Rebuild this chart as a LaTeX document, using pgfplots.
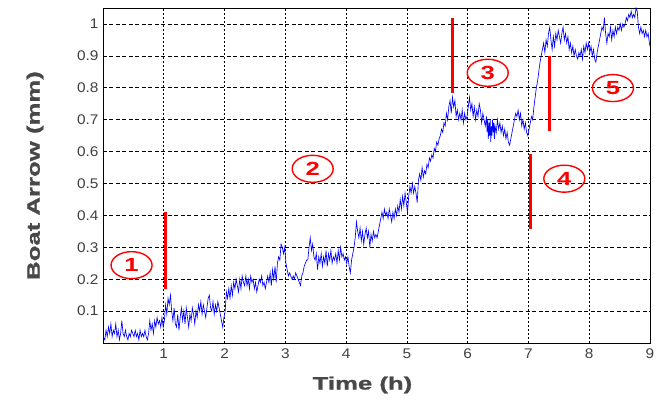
\documentclass[border=0pt]{standalone}
\usepackage{pgfplots}
\pgfplotsset{compat=1.18}
\usepackage{fontspec}
\setmainfont{Liberation Sans}
\newfontfamily\labfont[FakeStretch=1.43,FakeBold=1.2]{Liberation Sans Bold}
\newfontfamily\tickfont[FakeStretch=1.1]{Liberation Sans}
\newfontfamily\numfont[FakeStretch=1.35]{Liberation Sans Bold}
\usetikzlibrary{shapes.geometric}
\definecolor{labgray}{HTML}{484848}
\definecolor{tickgray}{HTML}{404040}
\begin{document}
\begin{tikzpicture}
\begin{axis}[
  name=ax,
  scale only axis,
  width=547pt, height=335pt,
  xmin=0, xmax=9, ymin=0, ymax=1.05,
  xtick={1,2,3,4,5,6,7,8,9},
  ytick={0.1,0.2,0.3,0.4,0.5,0.6,0.7,0.8,0.9,1},
  yticklabels={0.1,0.2,0.3,0.4,0.5,0.6,0.7,0.8,0.9,1},
  xticklabels={1,2,3,4,5,6,7,8,9},
  major tick length=0pt,
  grid=major,
  x grid style={black, line width=0.7pt, dash pattern=on 2pt off 2pt},
  y grid style={black, line width=0.7pt, dash pattern=on 4pt off 2.5pt},
  axis line style={black, line width=0.9pt},
  tick label style={font=\tickfont\fontsize{14}{16}\selectfont, text=tickgray},
  xticklabel style={yshift=-2pt},
  yticklabel style={xshift=-1pt},
  xlabel={Time (h)},
  ylabel={Boat Arrow (mm)},
  label style={font=\labfont\fontsize{18}{20}\selectfont, text=labgray},
  xlabel style={at={(axis description cs:0.4744,0)}, anchor=north, yshift=-30pt},
  ylabel style={at={(axis description cs:-0.1024,0.5)}, anchor=south},
  clip=true,
]
\addplot[blue, line width=0.65pt] coordinates {
(0.00,0.02)(0.03,0.01)(0.05,0.04)(0.07,0.02)(0.09,0.05)(0.11,0.03)(0.13,0.06)(0.15,0.02)(0.17,0.04)(0.19,0.03)
(0.21,0.06)(0.23,0.02)(0.25,0.04)(0.27,0.01)(0.29,0.03)(0.31,0.07)(0.33,0.03)(0.35,0.02)(0.37,0.04)(0.39,0.02)
(0.41,0.01)(0.43,0.03)(0.45,0.02)(0.47,0.04)(0.49,0.03)(0.51,0.02)(0.53,0.04)(0.55,0.02)(0.57,0.03)(0.59,0.01)
(0.61,0.04)(0.63,0.02)(0.65,0.03)(0.67,0.02)(0.69,0.04)(0.71,0.02)(0.73,0.01)(0.75,0.03)(0.77,0.07)(0.79,0.04)
(0.81,0.06)(0.83,0.03)(0.85,0.07)(0.87,0.05)(0.89,0.08)(0.91,0.06)(0.93,0.07)(0.95,0.05)(0.97,0.08)(0.99,0.05)
(1.01,0.07)(1.03,0.12)(1.05,0.09)(1.07,0.14)(1.09,0.12)(1.11,0.15)(1.13,0.10)(1.15,0.07)(1.17,0.11)(1.19,0.06)
(1.21,0.05)(1.23,0.09)(1.25,0.04)(1.27,0.08)(1.29,0.11)(1.31,0.07)(1.33,0.10)(1.35,0.06)(1.37,0.11)(1.39,0.08)
(1.41,0.05)(1.43,0.09)(1.45,0.07)(1.47,0.11)(1.49,0.09)(1.51,0.06)(1.53,0.10)(1.55,0.08)(1.57,0.12)(1.59,0.10)
(1.61,0.13)(1.63,0.09)(1.65,0.12)(1.67,0.10)(1.69,0.08)(1.71,0.11)(1.73,0.14)(1.75,0.15)(1.77,0.11)(1.79,0.10)
(1.81,0.13)(1.83,0.09)(1.85,0.12)(1.87,0.10)(1.89,0.13)(1.91,0.11)(1.93,0.09)(1.95,0.07)(1.97,0.05)(1.99,0.08)
(2.01,0.10)(2.03,0.16)(2.05,0.14)(2.07,0.17)(2.09,0.14)(2.11,0.18)(2.13,0.15)(2.15,0.19)(2.17,0.17)(2.19,0.20)
(2.21,0.18)(2.23,0.16)(2.25,0.20)(2.27,0.17)(2.29,0.21)(2.31,0.19)(2.33,0.18)(2.35,0.21)(2.37,0.18)(2.39,0.20)
(2.41,0.17)(2.43,0.21)(2.45,0.19)(2.47,0.20)(2.49,0.17)(2.51,0.19)(2.53,0.16)(2.55,0.18)(2.57,0.20)(2.59,0.19)
(2.61,0.21)(2.63,0.18)(2.65,0.19)(2.67,0.17)(2.69,0.19)(2.71,0.21)(2.73,0.19)(2.75,0.22)(2.77,0.18)(2.79,0.23)
(2.81,0.20)(2.83,0.24)(2.85,0.19)(2.87,0.25)(2.89,0.27)(2.91,0.26)(2.93,0.31)(2.95,0.30)(2.97,0.28)(2.99,0.30)
(3.01,0.25)(3.03,0.23)(3.05,0.21)(3.07,0.22)(3.09,0.21)(3.11,0.20)(3.13,0.21)(3.15,0.20)(3.17,0.22)(3.19,0.21)
(3.21,0.20)(3.23,0.19)(3.25,0.18)(3.27,0.21)(3.29,0.22)(3.31,0.24)(3.33,0.25)(3.35,0.26)(3.37,0.26)(3.39,0.30)
(3.41,0.33)(3.43,0.29)(3.45,0.31)(3.47,0.27)(3.49,0.26)(3.51,0.28)(3.53,0.23)(3.55,0.27)(3.57,0.25)(3.59,0.28)
(3.61,0.24)(3.63,0.27)(3.65,0.25)(3.67,0.29)(3.69,0.24)(3.71,0.28)(3.73,0.26)(3.75,0.29)(3.77,0.25)(3.79,0.27)
(3.81,0.26)(3.83,0.28)(3.85,0.25)(3.87,0.29)(3.89,0.26)(3.91,0.30)(3.93,0.27)(3.95,0.28)(3.97,0.26)(3.99,0.27)
(4.01,0.25)(4.03,0.27)(4.05,0.24)(4.07,0.22)(4.09,0.26)(4.11,0.28)(4.13,0.30)(4.15,0.33)(4.17,0.38)(4.19,0.35)
(4.21,0.33)(4.23,0.36)(4.25,0.32)(4.27,0.35)(4.29,0.31)(4.31,0.34)(4.33,0.36)(4.35,0.33)(4.37,0.35)(4.39,0.30)
(4.41,0.34)(4.43,0.32)(4.45,0.35)(4.47,0.33)(4.49,0.34)(4.51,0.33)(4.53,0.35)(4.55,0.37)(4.57,0.39)(4.59,0.41)
(4.61,0.39)(4.63,0.42)(4.65,0.40)(4.67,0.41)(4.69,0.39)(4.71,0.42)(4.73,0.40)(4.75,0.38)(4.77,0.41)(4.79,0.39)
(4.81,0.42)(4.83,0.40)(4.85,0.43)(4.87,0.41)(4.89,0.45)(4.91,0.42)(4.93,0.46)(4.95,0.43)(4.97,0.47)(4.99,0.44)
(5.01,0.41)(5.03,0.46)(5.05,0.49)(5.07,0.47)(5.09,0.50)(5.11,0.47)(5.13,0.49)(5.15,0.47)(5.17,0.44)(5.19,0.51)
(5.21,0.53)(5.23,0.51)(5.25,0.55)(5.27,0.52)(5.29,0.54)(5.31,0.53)(5.33,0.56)(5.35,0.55)(5.37,0.58)(5.39,0.57)
(5.41,0.59)(5.43,0.58)(5.45,0.61)(5.47,0.60)(5.49,0.63)(5.51,0.62)(5.53,0.64)(5.55,0.65)(5.57,0.67)(5.59,0.66)
(5.61,0.69)(5.63,0.68)(5.65,0.72)(5.67,0.70)(5.69,0.74)(5.71,0.76)(5.73,0.72)(5.75,0.77)(5.77,0.74)(5.79,0.76)
(5.81,0.71)(5.83,0.73)(5.85,0.70)(5.87,0.72)(5.89,0.70)(5.91,0.73)(5.93,0.69)(5.95,0.72)(5.97,0.70)(5.99,0.71)
(6.01,0.74)(6.03,0.77)(6.05,0.73)(6.07,0.75)(6.09,0.71)(6.11,0.74)(6.13,0.70)(6.15,0.73)(6.17,0.71)(6.19,0.75)
(6.21,0.73)(6.23,0.69)(6.25,0.72)(6.27,0.70)(6.29,0.68)(6.31,0.71)(6.32,0.66)(6.33,0.70)(6.34,0.64)(6.35,0.69)
(6.36,0.65)(6.37,0.70)(6.38,0.63)(6.39,0.68)(6.40,0.65)(6.41,0.70)(6.42,0.66)(6.43,0.69)(6.44,0.64)(6.45,0.68)
(6.47,0.66)(6.49,0.70)(6.51,0.67)(6.53,0.69)(6.55,0.66)(6.57,0.68)(6.59,0.65)(6.61,0.67)(6.63,0.64)(6.65,0.66)
(6.67,0.63)(6.69,0.62)(6.71,0.64)(6.73,0.66)(6.75,0.68)(6.77,0.70)(6.79,0.72)(6.81,0.71)(6.83,0.73)(6.85,0.70)
(6.87,0.72)(6.89,0.68)(6.91,0.70)(6.93,0.67)(6.95,0.69)(6.97,0.66)(6.99,0.65)(7.01,0.67)(7.03,0.69)(7.05,0.71)
(7.07,0.70)(7.09,0.74)(7.11,0.77)(7.13,0.80)(7.15,0.82)(7.17,0.85)(7.19,0.88)(7.21,0.90)(7.23,0.92)(7.25,0.94)
(7.27,0.91)(7.29,0.95)(7.31,0.93)(7.33,0.97)(7.35,0.99)(7.37,0.95)(7.39,0.92)(7.41,0.96)(7.43,0.93)(7.45,0.97)
(7.47,0.95)(7.49,0.98)(7.51,0.96)(7.53,0.94)(7.55,0.97)(7.57,0.99)(7.59,0.95)(7.61,0.97)(7.63,0.94)(7.65,0.96)
(7.67,0.92)(7.69,0.94)(7.71,0.91)(7.73,0.93)(7.75,0.90)(7.77,0.92)(7.79,0.90)(7.81,0.89)(7.83,0.91)(7.85,0.90)
(7.87,0.92)(7.89,0.89)(7.91,0.93)(7.93,0.91)(7.95,0.94)(7.97,0.92)(7.99,0.94)(8.01,0.91)(8.03,0.93)(8.05,0.90)
(8.07,0.92)(8.09,0.89)(8.11,0.88)(8.13,0.91)(8.15,0.93)(8.17,0.95)(8.19,0.97)(8.21,0.99)(8.23,0.98)(8.25,1.02)
(8.27,0.97)(8.29,0.94)(8.31,0.97)(8.33,0.96)(8.35,0.99)(8.37,0.95)(8.39,0.98)(8.41,0.96)(8.43,0.99)(8.45,0.97)
(8.47,0.99)(8.49,0.98)(8.51,1.00)(8.53,0.98)(8.55,1.00)(8.57,0.99)(8.59,1.00)(8.61,1.02)(8.63,1.01)(8.65,1.03)
(8.67,1.02)(8.69,1.04)(8.71,1.02)(8.73,1.03)(8.75,1.02)(8.77,1.05)(8.79,1.04)(8.81,0.99)(8.83,0.97)(8.85,0.99)
(8.87,0.97)(8.89,0.98)(8.91,0.96)(8.93,0.98)(8.95,0.96)(8.97,0.97)(8.99,0.94)(9.00,0.93)
};
\addplot[red, line width=3pt] coordinates {(1.03,0.17)(1.03,0.41)};
\addplot[red, line width=3pt] coordinates {(5.75,0.783)(5.75,1.02)};
\addplot[red, line width=3pt] coordinates {(7.03,0.357)(7.03,0.593)};
\addplot[red, line width=3pt] coordinates {(7.34,0.666)(7.34,0.901)};
\tikzset{lab/.style={draw=red, line width=1.4pt, ellipse, minimum width=41pt, minimum height=27pt, inner sep=0pt, text=red, font=\numfont\fontsize{19}{20}\selectfont}}
\node[lab] at (axis cs:0.47,0.244) {1};
\node[lab] at (axis cs:3.45,0.546) {2};
\node[lab] at (axis cs:6.33,0.847) {3};
\node[lab] at (axis cs:7.59,0.515) {4};
\node[lab] at (axis cs:8.39,0.799) {5};
\end{axis}
\pgfresetboundingbox
\path[use as bounding box] ([xshift=-103pt,yshift=-62pt]ax.south west) rectangle ([xshift=11pt,yshift=8pt]ax.north east);
\end{tikzpicture}
\end{document}
